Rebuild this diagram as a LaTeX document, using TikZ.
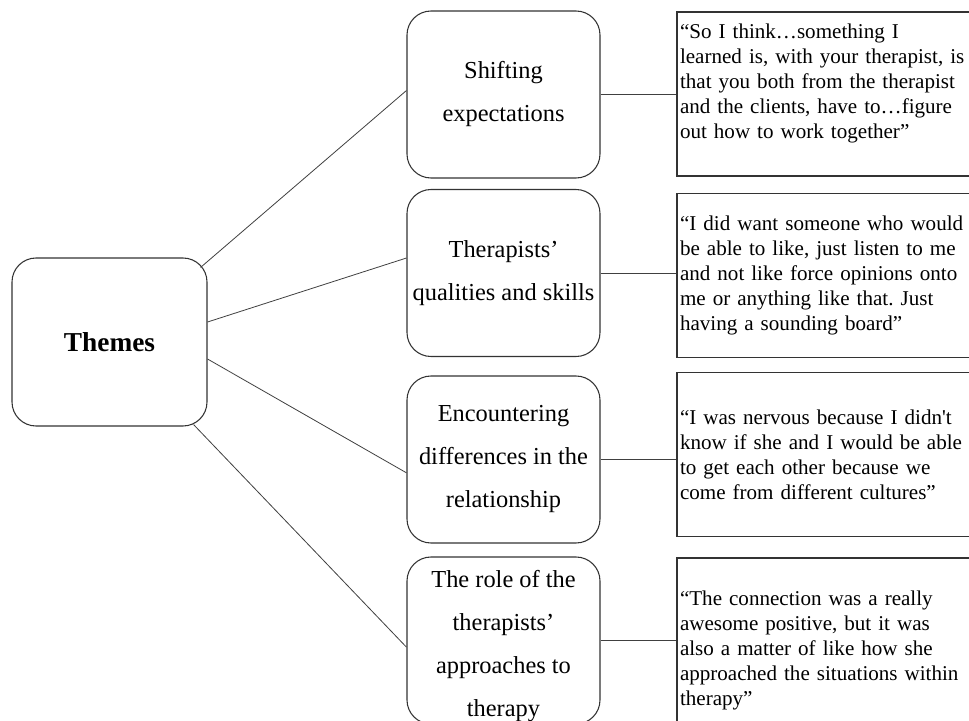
\documentclass[tikz,border=0pt]{standalone}
\usepackage{fontspec}
\setmainfont{Liberation Serif}[Ligatures=TeXOff]
\usepackage{tikz}
\usetikzlibrary{positioning}
\frenchspacing

\tikzset{
  theme/.style={draw=black!80, line width=0.8pt, rounded corners=18pt,
    minimum width=146.25pt, minimum height=126pt,
    font=\fontsize{20.5}{24}\selectfont},
  subtheme/.style={draw=black!80, line width=0.8pt, rounded corners=18pt,
    minimum width=144.75pt, minimum height=125.25pt, align=center,
    inner sep=2pt, font=\fontsize{18.3}{32.25}\selectfont},
  quotebox/.style={draw=black!80, line width=0.8pt, minimum height=123pt,
    text width=225pt, inner xsep=2.25pt, align=left,
    font=\fontsize{15.8}{18.75}\selectfont},
  link/.style={draw=black!75, line width=0.6pt}
}

\begin{document}
\begin{tikzpicture}[x=0.75pt, y=-0.75pt]
   \clip (0,0) rectangle (969,720);
   \fill[white] (0,0) rectangle (969,720);

   % main theme
   \node[theme] (th) at (109.5,342) {\textbf{Themes}};

   % sub-themes
   \node[subtheme] (m1) at (503.5,94.5) {Shifting\\expectations};
   \node[subtheme] (m2) at (503.5,273) {Therapists’\\qualities and skills};
   \node[subtheme] (m3) at (503.5,459.5) {Encountering\\differences in the\\relationship};
   \node[subtheme, inner ysep=0pt] (m4) at (503.5,640.5) {\rule{0pt}{21pt}The role of the\\therapists’\\approaches to\\therapy};

   % quotes
   \node[quotebox] (q1) at (830,94) {“So I think…something I\\learned is, with your therapist, is\\that you both from the therapist\\and the clients, have to…figure\\out how to work together”\\ \mbox{}};
   \node[quotebox] (q2) at (830,275.5) {“I did want someone who would\\be able to like, just listen to me\\and not like force opinions onto\\me or anything like that. Just\\having a sounding board”};
   \node[quotebox] (q3) at (830,454.5) {“I was nervous because I didn't\\know if she and I would be able\\to get each other because we\\come from different cultures”};
   \node[quotebox] (q4) at (830,640) {\rule{0pt}{26pt}“The connection was a really\\awesome positive, but it was\\also a matter of like how she\\approached the situations within\\therapy”};

   % theme to sub-themes
   \draw[link] ([xshift=-5.25pt,yshift=-7.5pt]th.north east) -- ([yshift=3pt]m1.west);
   \draw[link] ([yshift=15pt]th.east) -- ([yshift=11.25pt]m2.west);
   \draw[link] ([yshift=-12.75pt]th.east) -- ([yshift=-10pt]m3.west);
   \draw[link] ([xshift=-10.5pt,yshift=1.5pt]th.south east) -- ([yshift=-5pt]m4.west);

   % sub-themes to quotes
   \foreach \i in {1,...,4}
      \draw[link] (m\i.east) -- (m\i.east -| q\i.west);
\end{tikzpicture}
\end{document}
